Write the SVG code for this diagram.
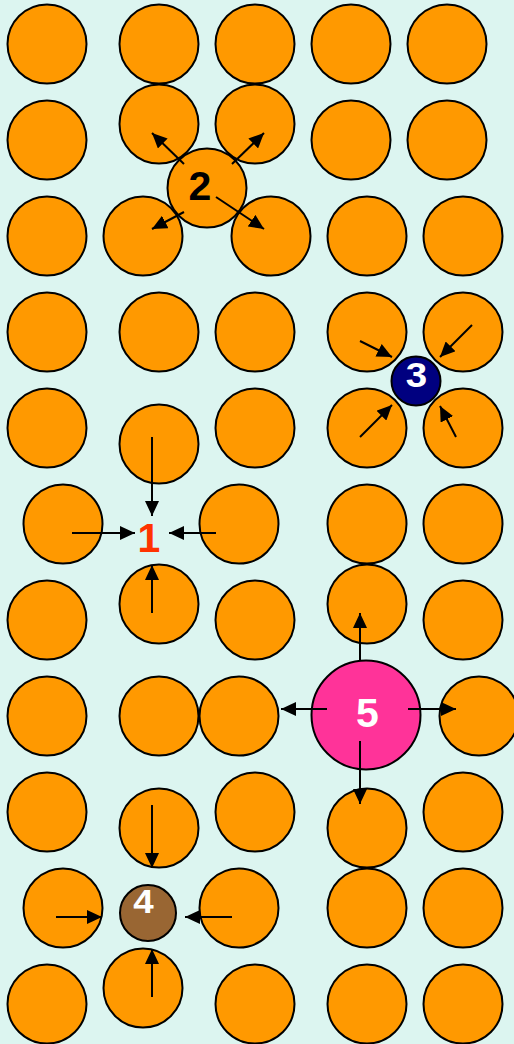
<svg xmlns="http://www.w3.org/2000/svg" width="514" height="1044" viewBox="0 0 514 1044">
<style>
.o{fill:#ff9900;stroke:#000;stroke-width:2}
.a{stroke:#000;stroke-width:2;fill:none;marker-end:url(#ah)}
.t{font-family:"Liberation Sans",Arial,sans-serif;font-weight:bold;text-anchor:middle}
</style>
<defs>
<marker id="ah" markerUnits="userSpaceOnUse" markerWidth="15" markerHeight="14" refX="15" refY="7" orient="auto">
<path d="M0,0 L15,7 L0,14 z" fill="#000"/>
</marker>
</defs>
<rect width="514" height="1044" fill="#dcf5f0"/>
<g id="grid">
<circle class="o" cx="47" cy="44" r="39.5"/><circle class="o" cx="159" cy="44" r="39.5"/><circle class="o" cx="255" cy="44" r="39.5"/><circle class="o" cx="351" cy="44" r="39.5"/><circle class="o" cx="447" cy="44" r="39.5"/>
<circle class="o" cx="47" cy="140" r="39.5"/><circle class="o" cx="159" cy="124" r="39.5"/><circle class="o" cx="255" cy="124" r="39.5"/><circle class="o" cx="351" cy="140" r="39.5"/><circle class="o" cx="447" cy="140" r="39.5"/>
<circle class="o" cx="47" cy="236" r="39.5"/><circle class="o" cx="143" cy="236" r="39.5"/><circle class="o" cx="271" cy="236" r="39.5"/><circle class="o" cx="367" cy="236" r="39.5"/><circle class="o" cx="463" cy="236" r="39.5"/>
<circle class="o" cx="47" cy="332" r="39.5"/><circle class="o" cx="159" cy="332" r="39.5"/><circle class="o" cx="255" cy="332" r="39.5"/><circle class="o" cx="367" cy="332" r="39.5"/><circle class="o" cx="463" cy="332" r="39.5"/>
<circle class="o" cx="47" cy="428" r="39.5"/><circle class="o" cx="159" cy="444" r="39.5"/><circle class="o" cx="255" cy="428" r="39.5"/><circle class="o" cx="367" cy="428" r="39.5"/><circle class="o" cx="463" cy="428" r="39.5"/>
<circle class="o" cx="63" cy="524" r="39.5"/><circle class="o" cx="239" cy="524" r="39.5"/><circle class="o" cx="367" cy="524" r="39.5"/><circle class="o" cx="463" cy="524" r="39.5"/>
<circle class="o" cx="47" cy="620" r="39.5"/><circle class="o" cx="159" cy="604" r="39.5"/><circle class="o" cx="255" cy="620" r="39.5"/><circle class="o" cx="367" cy="604" r="39.5"/><circle class="o" cx="463" cy="620" r="39.5"/>
<circle class="o" cx="47" cy="716" r="39.5"/><circle class="o" cx="159" cy="716" r="39.5"/><circle class="o" cx="239" cy="716" r="39.5"/><circle class="o" cx="479" cy="716" r="39.5"/>
<circle class="o" cx="47" cy="812" r="39.5"/><circle class="o" cx="159" cy="828" r="39.5"/><circle class="o" cx="255" cy="812" r="39.5"/><circle class="o" cx="367" cy="828" r="39.5"/><circle class="o" cx="463" cy="812" r="39.5"/>
<circle class="o" cx="63" cy="908" r="39.5"/><circle class="o" cx="239" cy="908" r="39.5"/><circle class="o" cx="367" cy="908" r="39.5"/><circle class="o" cx="463" cy="908" r="39.5"/>
<circle class="o" cx="47" cy="1004" r="39.5"/><circle class="o" cx="143" cy="988" r="39.5"/><circle class="o" cx="255" cy="1004" r="39.5"/><circle class="o" cx="367" cy="1004" r="39.5"/><circle class="o" cx="463" cy="1004" r="39.5"/>
</g>
<g id="node2"><circle class="o" cx="207" cy="188" r="39.5"/><text class="t" x="200" y="200" font-size="41" fill="#000">2</text></g>
<g id="node3"><circle cx="416" cy="381" r="24.5" fill="#000080" stroke="#000" stroke-width="2"/><text class="t" transform="translate(416.5 387) scale(1.1 1)" font-size="35" fill="#fff">3</text></g>
<g id="node4"><circle cx="148" cy="913" r="28" fill="#996633" stroke="#000" stroke-width="2"/><text class="t" transform="translate(143.5 913) scale(1.08 1)" font-size="34" fill="#fff">4</text></g>
<g id="node5"><circle cx="366" cy="715" r="54.5" fill="#ff3399" stroke="#000" stroke-width="2"/><text class="t" x="367.5" y="727" font-size="41" fill="#fff">5</text></g>
<g id="node1"><text class="t" x="149" y="552" font-size="41" fill="#ff3300">1</text></g>
<g id="connectors">
<line class="a" x1="184" y1="164" x2="152" y2="133"/>
<line class="a" x1="232" y1="164" x2="264" y2="133"/>
<line class="a" x1="184" y1="212" x2="152" y2="229"/>
<line class="a" x1="216" y1="197" x2="264" y2="229"/>
<line class="a" x1="360" y1="341" x2="392" y2="357"/>
<line class="a" x1="472" y1="325" x2="440" y2="357"/>
<line class="a" x1="360" y1="437" x2="392" y2="405"/>
<line class="a" x1="456" y1="437" x2="440" y2="406"/>
<line class="a" x1="152" y1="437" x2="152" y2="516"/>
<line class="a" x1="72" y1="533" x2="135" y2="533"/>
<line class="a" x1="216" y1="533" x2="169" y2="533"/>
<line class="a" x1="152" y1="613" x2="152" y2="565"/>
<line class="a" x1="360" y1="660" x2="360" y2="613"/>
<line class="a" x1="327" y1="709" x2="281" y2="709"/>
<line class="a" x1="408" y1="709" x2="456" y2="709"/>
<line class="a" x1="360" y1="741" x2="360" y2="804"/>
<line class="a" x1="152" y1="805" x2="152" y2="868"/>
<line class="a" x1="56" y1="917" x2="102" y2="917"/>
<line class="a" x1="232" y1="917" x2="185" y2="917"/>
<line class="a" x1="152" y1="997" x2="152" y2="949"/>
</g>
</svg>
